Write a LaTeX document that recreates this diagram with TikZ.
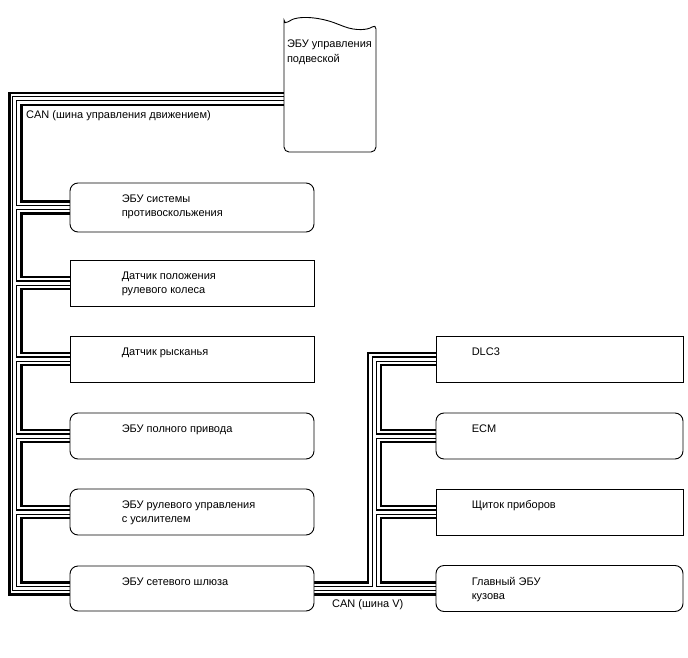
\documentclass[tikz,border=0pt]{standalone}
\usepackage{fontspec}
\setmainfont{Liberation Sans}
\usetikzlibrary{backgrounds,calc}
\begin{document}
\begin{tikzpicture}[x=1pt,y=-1pt,
  box/.style={draw, line width=0.9pt, fill=white, minimum width=244pt, minimum height=46pt, inner sep=0pt},
  rbox/.style={box, rounded corners=8pt},
  wide/.style={minimum width=247pt},
  txt/.style={anchor=north west, inner sep=0pt, align=left, font=\fontsize{11}{14.5}\selectfont},
  lbl/.style={anchor=base west, inner sep=0pt, font=\fontsize{11}{14.5}\selectfont},
  bus/.style={line width=2.2pt},
  wireblack/.style={line width=5.2pt},
  wirewhite/.style={line width=3pt, white}]
\useasboundingbox (0,0) rectangle (688,658);

% suspension ECU
\node[minimum width=92pt, minimum height=130pt, inner sep=0pt] (susp) at (330,87) {};
\draw[line width=0.9pt, fill=white, rounded corners=5pt] (284,25) -- (284,152) -- (376,152) -- (376,24)
  .. controls (368,30) and (356,31) .. (340,25) .. controls (322,18) and (298,14) .. (284,25) -- cycle;
\node[txt] (st) at ([xshift=3pt,yshift=-18pt]susp.north west) {ЭБУ управления\\подвеской};

% left column
\node[rbox, minimum height=49pt] (n1) at (192,207.5) {};
\node[box] (n2) at (192,283) {};
\node[box] (n3) at (192,359) {};
\node[rbox] (n4) at (192,436) {};
\node[rbox] (n5) at (192,512) {};
\node[rbox, minimum height=45pt] (gw) at (192,588.5) {};

% right column
\node[box, wide] (dlc) at (559.5,359) {};
\node[rbox, wide] (ecm) at (559.5,436) {};
\node[box, wide] (meter) at (559.5,512) {};
\node[rbox, wide] (body) at (559.5,588.5) {};

% texts
\node[txt] (t1) at ([xshift=52pt,yshift=-12pt]n1.north west) {ЭБУ системы\\противоскольжения};
\node[txt] (t2) at ([xshift=52pt,yshift=-12pt]n2.north west) {Датчик положения\\рулевого колеса};
\node[txt] (t3) at ([xshift=52pt,yshift=-12pt]n3.north west) {Датчик рысканья};
\node[txt] (t4) at ([xshift=52pt,yshift=-12pt]n4.north west) {ЭБУ полного привода};
\node[txt] (t5) at ([xshift=52pt,yshift=-12pt]n5.north west) {ЭБУ рулевого управления\\с усилителем};
\node[txt] (t6) at ([xshift=52pt,yshift=-12pt]gw.north west) {ЭБУ сетевого шлюза};
\node[txt] (t7) at ([xshift=36pt,yshift=-12pt]dlc.north west) {DLC3};
\node[txt] (t8) at ([xshift=36pt,yshift=-12pt]ecm.north west) {ECM};
\node[txt] (t9) at ([xshift=36pt,yshift=-12pt]meter.north west) {Щиток приборов};
\node[txt] (t10) at ([xshift=36pt,yshift=-12pt]body.north west) {Главный ЭБУ\\кузова};
\node[lbl] (can1) at (26,119) {CAN (шина управления движением)};
\node[lbl] (can2) at (332,607) {CAN (шина V)};

% connection points
\coordinate (LO) at (9.5,0);
\coordinate (LW) at (14.5,0);
\coordinate (LI) at (21.5,0);
\coordinate (RO) at (368,0);
\coordinate (RW) at (374.5,0);
\coordinate (RI) at (381,0);
\coordinate (sO) at ([yshift=-6pt]susp.west);
\coordinate (sW) at ([yshift=-11.5pt]susp.west);
\coordinate (sI) at ([yshift=-18pt]susp.west);
\foreach \n in {n1,n2,n3,n4,n5,gw,dlc,ecm,meter,body}{
  \coordinate (\n A) at ([yshift=6pt]\n.west);
  \coordinate (\n B) at ([yshift=-6pt]\n.west);
}
\coordinate (geA) at ([yshift=6pt]gw.east);
\coordinate (geB) at ([yshift=-6pt]gw.east);

\begin{scope}[on background layer]
\fill[white] (0,0) rectangle (688,658);
% white wire (two passes)
\foreach \st in {wireblack,wirewhite}{
  \draw[\st] (sW) -- (sW -| LW) -- (gw.west -| LW) -- (gw.west);
  \foreach \n in {n1,n2,n3,n4,n5}{\draw[\st] (\n.west -| LW) -- (\n.west);}
  \draw[\st] (gw.east) -- (body.west);
  \draw[\st] (gw.east -| RW) -- (dlc.west -| RW) -- (dlc.west);
  \foreach \n in {ecm,meter}{\draw[\st] (\n.west -| RW) -- (\n.west);}
}
% black wires
\draw[bus] (sO) -- (sO -| LO) -- (gwB -| LO) -- (gwB);
\draw[bus] (sI) -- (sI -| LI) -- (n1A -| LI) -- (n1A);
\draw[bus] (n1B) -- (n1B -| LI) -- (n2A -| LI) -- (n2A);
\draw[bus] (n2B) -- (n2B -| LI) -- (n3A -| LI) -- (n3A);
\draw[bus] (n3B) -- (n3B -| LI) -- (n4A -| LI) -- (n4A);
\draw[bus] (n4B) -- (n4B -| LI) -- (n5A -| LI) -- (n5A);
\draw[bus] (n5B) -- (n5B -| LI) -- (gwA -| LI) -- (gwA);
\draw[bus] (geA) -- (geA -| RO) -- (dlcA -| RO) -- (dlcA);
\draw[bus] (dlcB) -- (dlcB -| RI) -- (ecmA -| RI) -- (ecmA);
\draw[bus] (ecmB) -- (ecmB -| RI) -- (meterA -| RI) -- (meterA);
\draw[bus] (meterB) -- (meterB -| RI) -- (bodyA -| RI) -- (bodyA);
\draw[bus] (geB) -- (bodyB);
\end{scope}
\end{tikzpicture}
\end{document}
